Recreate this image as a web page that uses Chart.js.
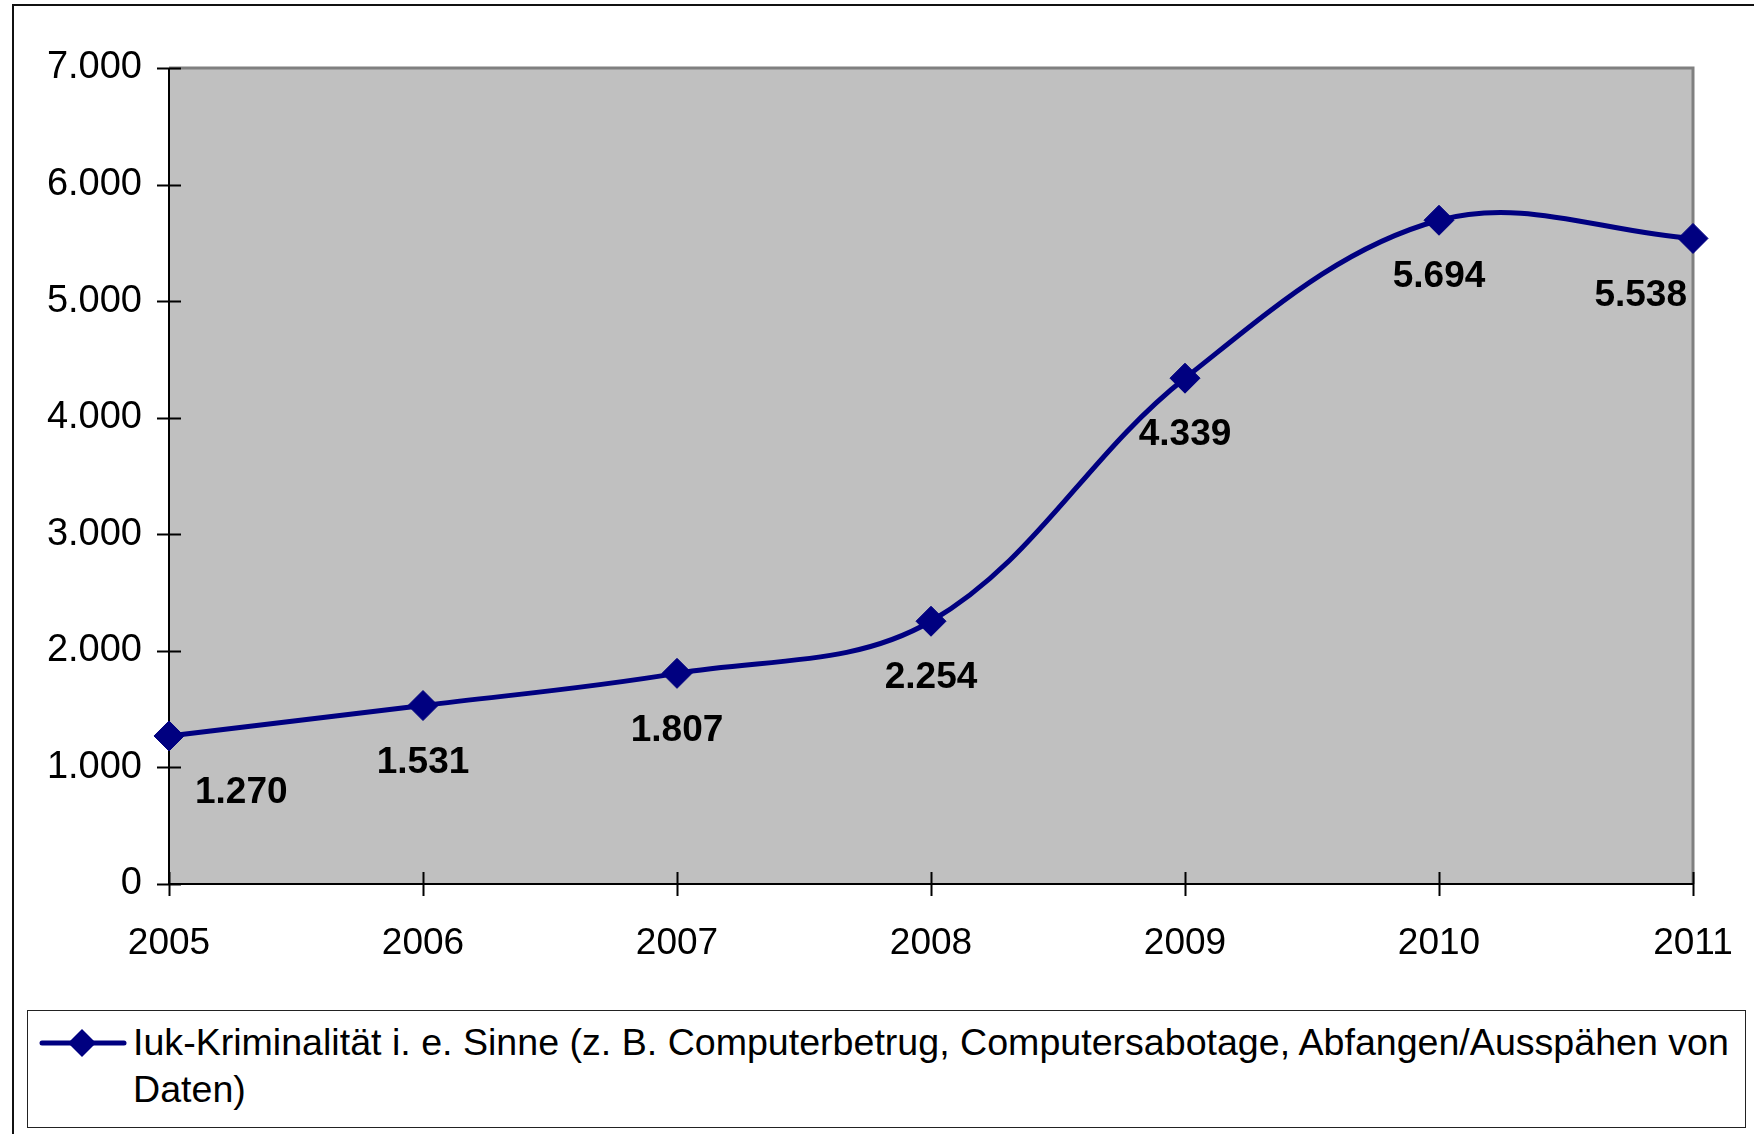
<!DOCTYPE html>
<html>
<head>
<meta charset="utf-8">
<script src="https://cdn.jsdelivr.net/npm/chart.js@4/dist/chart.umd.min.js"></script>
<style>
  html, body { margin: 0; padding: 0; background: #fff; }
  #wrap { position: relative; width: 1754px; height: 1134px; overflow: hidden; font-family: "Liberation Sans", Arial, sans-serif; }
  #frame { position: absolute; left: 12px; top: 4px; width: 1800px; height: 1200px; border: 2px solid #111; box-sizing: border-box; }
  #chart { position: absolute; left: 0; top: 0; }
  #legendBox { position: absolute; left: 27px; top: 1010px; width: 1719px; height: 118px; border: 1.5px solid #222; box-sizing: border-box; background: #fff; }
  #legendMark { position: absolute; left: 36px; top: 1028px; }
  #legendText { position: absolute; left: 133px; top: 1019px; width: 1610px; font-size: 37.6px; line-height: 47px; color: #000; white-space: nowrap; }
</style>
</head>
<body>
<div id="wrap">
  <div id="frame"></div>
  <canvas id="chart" width="1754" height="1134"></canvas>
  <div id="legendBox"></div>
  <svg id="legendMark" width="94" height="30">
    <line x1="6" y1="15" x2="88" y2="15" stroke="#000080" stroke-width="5" stroke-linecap="round"/>
    <polygon points="46,1 60,15 46,29 32,15" fill="#000080"/>
  </svg>
  <div id="legendText"></div>
</div>
<script>
let years = ['2005', '2006', '2007', '2008', '2009', '2010', '2011'];
let cases = [1270, 1531, 1807, 2254, 4339, 5694, 5538];
let yTicks = [0, 1000, 2000, 3000, 4000, 5000, 6000, 7000];
// legend text, split where the original wraps
let seriesLines = ['Iuk-Kriminalität i. e. Sinne (z. B. Computerbetrug, Computersabotage, Abfangen/Ausspähen von', 'Daten)'];
let seriesName = seriesLines.join(' ');

let legendText = document.getElementById('legendText');
seriesLines.forEach((line, i) => {
    if (i > 0) legendText.appendChild(document.createElement('br'));
    legendText.appendChild(document.createTextNode(line));
});

// 1234 -> "1.234"
function fmt(v) {
    return String(v).replace(/\B(?=(\d{3})+(?!\d))/g, '.');
}

// grey plot area, axes and cross ticks like the old office chart
let plotFrame = {
    id: 'plotFrame',
    beforeDatasetsDraw(chart) {
        let ctx = chart.ctx;
        let a = chart.chartArea;
        let x = chart.scales.x, y = chart.scales.y;
        ctx.save();
        ctx.fillStyle = '#c0c0c0';
        ctx.fillRect(a.left, a.top, a.right - a.left, a.bottom - a.top);
        ctx.strokeStyle = '#808080';
        ctx.lineWidth = 3;
        ctx.beginPath();
        ctx.moveTo(a.left, a.top);
        ctx.lineTo(a.right, a.top);
        ctx.lineTo(a.right, a.bottom);
        ctx.stroke();

        ctx.strokeStyle = '#000';
        ctx.lineWidth = 2;
        ctx.beginPath();
        ctx.moveTo(a.left, a.top);
        ctx.lineTo(a.left, a.bottom);
        ctx.lineTo(a.right, a.bottom);
        yTicks.forEach(v => {
            let py = Math.round(y.getPixelForValue(v)) + 0.5;
            ctx.moveTo(a.left - 12, py);
            ctx.lineTo(a.left + 12, py);
        });
        years.forEach((yr, i) => {
            let px = Math.round(x.getPixelForValue(i)) + 0.5;
            ctx.moveTo(px, a.bottom - 12);
            ctx.lineTo(px, a.bottom + 12);
        });
        ctx.stroke();
        ctx.restore();
    }
};

// value labels under the points
let pointLabels = {
    id: 'pointLabels',
    afterDatasetsDraw(chart) {
        let ctx = chart.ctx;
        let a = chart.chartArea;
        let meta = chart.getDatasetMeta(0);
        ctx.save();
        ctx.font = 'bold 37px "Liberation Sans", Arial, sans-serif';
        ctx.fillStyle = '#000';
        ctx.textAlign = 'center';
        ctx.textBaseline = 'middle';
        meta.data.forEach((pt, i) => {
            let text = fmt(cases[i]);
            let w = ctx.measureText(text).width;
            let px = Math.max(pt.x, a.left + 26 + w / 2);
            px = Math.min(px, a.right - 6 - w / 2);
            ctx.fillText(text, px, pt.y + 57);
        });
        ctx.restore();
    }
};

let ctx = document.getElementById('chart').getContext('2d');
let chart = new Chart(ctx, {
    type: 'line',
    data: {
        labels: years,
        datasets: [{
            label: seriesName,
            data: cases,
            borderColor: '#000080',
            backgroundColor: '#000080',
            borderWidth: 5,
            tension: 0.36,
            pointStyle: 'rectRot',
            pointRadius: 15,
            pointBorderWidth: 1,
            pointBackgroundColor: '#000080',
            pointBorderColor: '#000080'
        }]
    },
    options: {
        responsive: false,
        animation: false,
        layout: {
            autoPadding: false,
            padding: { left: 0, top: 68, right: 61, bottom: 170 }
        },
        plugins: {
            legend: { display: false },
            tooltip: { enabled: false }
        },
        scales: {
            x: {
                offset: false,
                grid: { display: false, drawTicks: false },
                border: { display: false },
                ticks: {
                    color: '#000',
                    padding: 38,
                    maxRotation: 0,
                    font: { family: '"Liberation Sans", Arial, sans-serif', size: 37 }
                },
                afterFit(scale) {
                    scale.height = 80;
                    scale.paddingLeft = 0;
                    scale.paddingRight = 0;
                }
            },
            y: {
                min: 0,
                max: 7000,
                grid: { display: false, drawTicks: false },
                border: { display: false },
                ticks: {
                    stepSize: 1000,
                    color: '#000',
                    padding: 27,
                    font: { family: '"Liberation Sans", Arial, sans-serif', size: 38 },
                    callback: v => fmt(v)
                },
                afterFit(scale) { scale.width = 169; }
            }
        }
    },
    plugins: [plotFrame, pointLabels]
});
</script>
</body>
</html>
